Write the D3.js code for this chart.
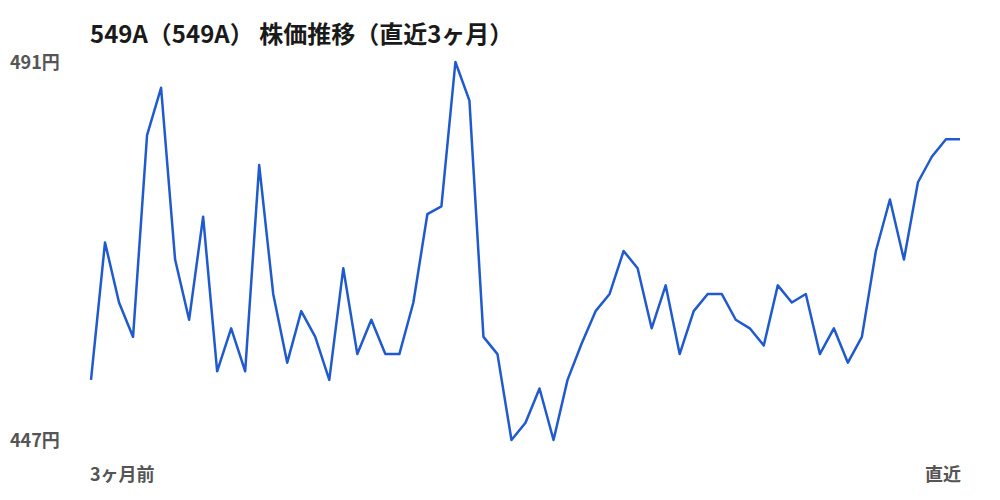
<!DOCTYPE html>
<html>
<head>
<meta charset="utf-8">
<script src="https://cdn.jsdelivr.net/npm/d3@7"></script>
<style>
	body { margin: 0; background: #fff; }
	text { font-family: "Noto Sans CJK JP", "Noto Sans", sans-serif; }
</style>
</head>
<body>
<svg class="chart"></svg>
<script>

// closing prices, oldest first
var prices = [454, 470, 463, 459, 482.5, 488, 468, 461, 473, 455,
	460, 455, 479, 464, 456, 462, 459, 454, 467, 457,
	461, 457, 457, 463, 473.3, 474.2, 491, 486.5, 459, 457,
	447, 449, 453, 447, 454, 458.2, 462, 464, 469, 467,
	460, 465, 457, 462, 464, 464, 461, 460, 458, 465,
	463, 464, 457, 460, 456, 459, 469, 475, 468, 477,
	480, 482, 482];

var title = '549A（549A） 株価推移（直近3ヶ月）';
var yLabels = [491, 447];
var xLabels = ['3ヶ月前', '直近'];

var width = 1000,
	height = 500;

var margin = {top: 62, right: 40, bottom: 60, left: 91};

var x = d3.scaleLinear()
	.domain([0, prices.length - 1])
	.range([margin.left, width - margin.right]);

var y = d3.scaleLinear()
	.domain([d3.min(yLabels), d3.max(yLabels)])
	.range([height - margin.bottom, margin.top]);

var svg = d3.select('.chart')
	.attr('width', width)
	.attr('height', height);

// title
svg.append('text')
	.attr('x', 90)
	.attr('y', 43)
	.style('font-size', '24px')
	.style('font-weight', 'bold')
	.attr('fill', '#1a1a1a')
	.text(title);

// min / max price labels
svg.selectAll('.ylab')
	.data(yLabels)
.enter().append('text')
	.attr('class', 'ylab')
	.attr('x', 10)
	.attr('y', function(d) { return y(d); })
	.attr('dy', '0.38em')
	.style('font-size', '18px')
	.style('font-weight', 'bold')
	.attr('fill', '#555')
	.text(function(d) { return d + '円'; });

// start / end labels
svg.selectAll('.xlab')
	.data(xLabels)
.enter().append('text')
	.attr('class', 'xlab')
	.attr('x', function(d, i) { return i == 0 ? x(0) - 1 : x(prices.length - 1) + 1; })
	.attr('y', 481)
	.attr('text-anchor', function(d, i) { return i == 0 ? 'start' : 'end'; })
	.style('font-size', '18px')
	.style('font-weight', 'bold')
	.attr('fill', '#555')
	.text(function(d) { return d; });

var line = d3.line()
	.x(function(d, i) { return x(i); })
	.y(function(d) { return y(d); });

svg.append('path')
	.datum(prices)
	.attr('fill', 'none')
	.attr('stroke', '#1f5acf')
	.attr('stroke-width', 2.5)
	.attr('stroke-linejoin', 'round')
	.attr('d', line);

</script>
</body>
</html>
